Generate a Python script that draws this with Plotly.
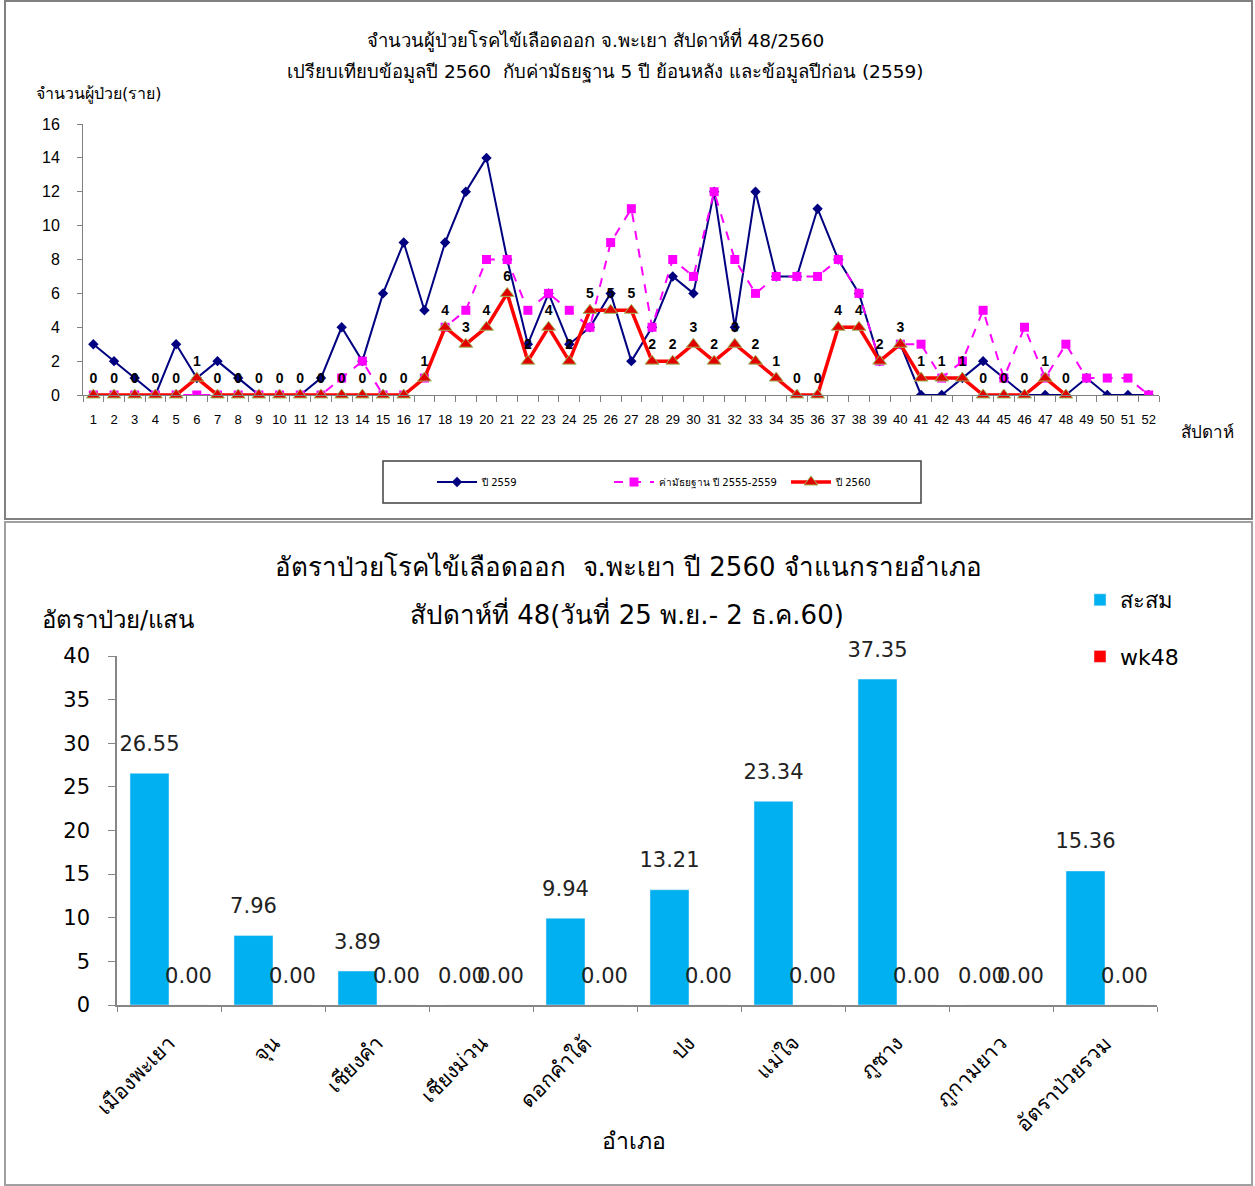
import plotly.graph_objects as go

# ---------------- data: top chart ----------------
weeks = [str(i) for i in range(1, 53)]
y2559 = [3, 2, 1, 0, 3, 1, 2, 1, 0, 0, 0, 1, 4, 2, 6, 9, 5, 9, 12, 14,
         8, 3, 6, 3, 4, 6, 2, 4, 7, 6, 12, 4, 12, 7, 7, 11, 8, 6, 2, 3,
         0, 0, 1, 2, 1, 0, 0, 0, 1, 0, 0, 0]
median5y = [0, 0, 0, 0, 0, 0, 0, 0, 0, 0, 0, 0, 1, 2, 0, 0, 1, 4, 5, 8,
            8, 5, 6, 5, 4, 9, 11, 4, 8, 7, 12, 8, 6, 7, 7, 7, 8, 6, 2, 3,
            3, 1, 2, 5, 1, 4, 1, 3, 1, 1, 1, 0]
y2560 = [0, 0, 0, 0, 0, 1, 0, 0, 0, 0, 0, 0, 0, 0, 0, 0, 1, 4, 3, 4,
         6, 2, 4, 2, 5, 5, 5, 2, 2, 3, 2, 3, 2, 1, 0, 0, 4, 4, 2, 3,
         1, 1, 1, 0, 0, 0, 1, 0]
top_y_ticks = [0, 2, 4, 6, 8, 10, 12, 14, 16]

# ---------------- data: bottom chart ----------------
districts = ["เมืองพะเยา", "จุน", "เชียงคำ", "เชียงม่วน", "ดอกคำใต้",
             "ปง", "แม่ใจ", "ภูซาง", "ภูกามยาว", "อัตราป่วยรวม"]
cumulative = [26.55, 7.96, 3.89, 0.00, 9.94, 13.21, 23.34, 37.35, 0.00, 15.36]
wk48 = [0.00] * 10
bottom_y_ticks = [0, 5, 10, 15, 20, 25, 30, 35, 40]

W, H = 1255, 1186
FONT = "DejaVu Sans, Noto Sans, sans-serif"
ARIAL = "Liberation Sans, Arial, sans-serif"


def px(xp):
    return xp / W


def py(yp):
    return 1 - yp / H


fig = go.Figure()

# top chart traces (all share one offset group so they stay centred)
fig.add_trace(go.Scatter(
    x=weeks, y=y2559, name="ปี 2559", mode="lines+markers",
    line=dict(color="#000080", width=2),
    marker=dict(symbol="diamond", size=8, color="#000080"),
    offsetgroup="top", alignmentgroup="top",
    xaxis="x", yaxis="y", legend="legend"))
fig.add_trace(go.Scatter(
    x=weeks, y=median5y, name="ค่ามัธยฐาน ปี 2555-2559", mode="lines+markers",
    line=dict(color="#FF00FF", width=2, dash="dash"),
    marker=dict(symbol="square", size=9, color="#FF00FF"),
    offsetgroup="top", alignmentgroup="top",
    xaxis="x", yaxis="y", legend="legend"))
fig.add_trace(go.Scatter(
    x=weeks[:len(y2560)], y=y2560, name="ปี 2560", mode="lines+markers+text",
    text=[str(v) for v in y2560], textposition="top center",
    textfont=dict(family=ARIAL, size=14, color="black", weight="bold"),
    line=dict(color="#FF0000", width=3.5),
    marker=dict(symbol="triangle-up", size=12, color="#E00000",
                line=dict(color="#9BBB59", width=1)),
    cliponaxis=False,
    offsetgroup="top", alignmentgroup="top",
    xaxis="x", yaxis="y", legend="legend"))

# bottom chart traces
fig.add_trace(go.Bar(
    x=districts, y=cumulative, name="สะสม", marker_color="#00B0F0",
    xaxis="x2", yaxis="y2", legend="legend2", legendgroup="a"))
fig.add_trace(go.Bar(
    x=districts, y=wk48, name="wk48", marker_color="#FF0000",
    xaxis="x2", yaxis="y2", legend="legend2", legendgroup="b"))
# value labels (grouped like the bars)
for gname, vals in (("c", cumulative), ("w", wk48)):
    fig.add_trace(go.Scatter(
        x=districts, y=vals, mode="markers+text",
        text=[f"{v:.2f}" for v in vals], textposition="top center",
        textfont=dict(family=FONT, size=21, color="#222222"),
        marker=dict(size=26, opacity=0), cliponaxis=False,
        showlegend=False, hoverinfo="skip",
        offsetgroup=gname, alignmentgroup="bottom",
        xaxis="x2", yaxis="y2"))

fig.update_layout(
    width=W, height=H, autosize=False,
    margin=dict(l=0, r=0, t=0, b=0, autoexpand=False),
    paper_bgcolor="white", plot_bgcolor="white",
    font=dict(family=FONT, color="black"),
    barmode="group", bargap=0.25, bargroupgap=0,
    scattermode="group", scattergap=0.25,
    xaxis=dict(domain=[px(83), px(1159)], anchor="y", type="category",
               range=[-0.5, 51.5], automargin=False, tickangle=0,
               showline=True, linecolor="#808080", linewidth=1,
               ticks="outside", tickson="boundaries", ticklen=6,
               tickcolor="#808080", showgrid=False, zeroline=False,
               ticklabelstandoff=12,
               tickfont=dict(family=ARIAL, size=13)),
    yaxis=dict(domain=[py(395), py(124)], anchor="x", range=[0, 16],
               automargin=False, ticklabelstandoff=14,
               tickvals=top_y_ticks, showline=True, linecolor="#808080",
               ticks="outside", ticklen=5, tickcolor="#808080",
               showgrid=False, zeroline=False,
               tickfont=dict(family=ARIAL, size=16)),
    xaxis2=dict(domain=[px(117), px(1157)], anchor="y2", type="category",
                range=[-0.5, 9.5], automargin=False,
                showline=True, linecolor="#868686", linewidth=1.5,
                ticks="outside", tickson="boundaries", ticklen=5,
                tickcolor="#868686", showgrid=False, zeroline=False,
                ticklabelstandoff=16,
                tickangle=-45, tickfont=dict(family=FONT, size=21)),
    yaxis2=dict(domain=[py(1005), py(656)], anchor="x2", range=[0, 40],
                automargin=False, ticklabelstandoff=14,
                tickvals=bottom_y_ticks, showline=True, linecolor="#868686",
                linewidth=1.5, ticks="outside", ticklen=7, tickcolor="#868686",
                showgrid=False, zeroline=False,
                tickfont=dict(family=FONT, size=21)),
    legend=dict(orientation="h", x=px(432), y=py(482), xanchor="left",
                yanchor="middle", bgcolor="rgba(0,0,0,0)",
                font=dict(family=FONT, size=10), entrywidth=122,
                itemwidth=40),
    legend2=dict(x=px(1080), y=py(579), xanchor="left", yanchor="top",
                 bgcolor="rgba(0,0,0,0)", font=dict(family=FONT, size=22),
                 tracegroupgap=25, itemwidth=30),
    shapes=[
        dict(type="rect", xref="paper", yref="paper",
             x0=px(5), x1=px(1252), y0=py(519), y1=py(1),
             line=dict(color="#808080", width=2)),
        dict(type="rect", xref="paper", yref="paper",
             x0=px(5), x1=px(1252), y0=py(1185), y1=py(522),
             line=dict(color="#A0A0A0", width=2)),
        dict(type="rect", xref="paper", yref="paper",
             x0=px(383), x1=px(921), y0=py(503), y1=py(461),
             line=dict(color="#404040", width=1.5)),
    ],
    annotations=[
        dict(text="จำนวนผู้ป่วยโรคไข้เลือดออก จ.พะเยา สัปดาห์ที่ 48/2560",
             x=px(595), y=py(40), xref="paper", yref="paper",
             showarrow=False, font=dict(size=18.5), xanchor="center", yanchor="middle"),
        dict(text="เปรียบเทียบข้อมูลปี 2560  กับค่ามัธยฐาน 5 ปี ย้อนหลัง และข้อมูลปีก่อน (2559)",
             x=px(605), y=py(72), xref="paper", yref="paper",
             showarrow=False, font=dict(size=18.5), xanchor="center", yanchor="middle"),
        dict(text="จำนวนผู้ป่วย(ราย)", x=px(34), y=py(94), xref="paper", yref="paper",
             showarrow=False, font=dict(size=16), xanchor="left", yanchor="middle"),
        dict(text="สัปดาห์", x=px(1207), y=py(432), xref="paper", yref="paper",
             showarrow=False, font=dict(size=17), xanchor="center", yanchor="middle"),
        dict(text="อัตราป่วยโรคไข้เลือดออก  จ.พะเยา ปี 2560 จำแนกรายอำเภอ",
             x=px(628), y=py(567), xref="paper", yref="paper",
             showarrow=False, font=dict(size=26), xanchor="center", yanchor="middle"),
        dict(text="สัปดาห์ที่ 48(วันที่ 25 พ.ย.- 2 ธ.ค.60)",
             x=px(627), y=py(613), xref="paper", yref="paper",
             showarrow=False, font=dict(size=26), xanchor="center", yanchor="middle"),
        dict(text="อัตราป่วย/แสน", x=px(40), y=py(620), xref="paper", yref="paper",
             showarrow=False, font=dict(size=24), xanchor="left", yanchor="middle"),
        dict(text="อำเภอ", x=px(634), y=py(1141), xref="paper", yref="paper",
             showarrow=False, font=dict(size=23), xanchor="center", yanchor="middle"),
    ],
)

fig.write_html("out.html", config={"displayModeBar": False},
               post_script="document.body.style.margin='0';")
